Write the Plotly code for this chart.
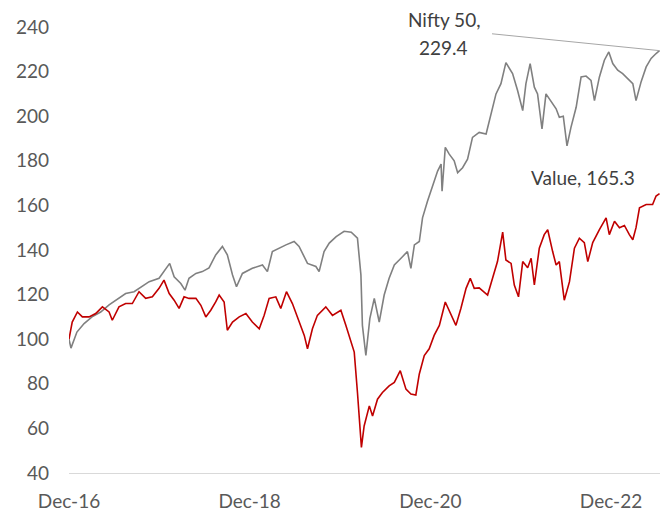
import plotly.graph_objects as go

# ==========================================
# Data (rebased to 100 in Dec-16)
# ==========================================

nifty_dates = [
    "2016-12-01", "2016-12-09", "2017-01-02", "2017-01-31", "2017-03-04", "2017-04-08",
    "2017-05-12", "2017-06-13", "2017-07-18", "2017-08-21", "2017-09-22", "2017-10-21",
    "2017-11-30", "2017-12-27", "2018-01-12", "2018-01-30", "2018-02-26", "2018-03-15",
    "2018-03-31", "2018-04-28", "2018-05-24", "2018-06-20", "2018-07-17", "2018-08-13",
    "2018-09-02", "2018-09-23", "2018-10-09", "2018-11-02", "2018-12-12", "2019-01-22",
    "2019-02-11", "2019-03-03", "2019-03-30", "2019-04-27", "2019-05-30", "2019-06-19",
    "2019-07-23", "2019-08-26", "2019-09-08", "2019-09-28", "2019-10-19", "2019-11-16",
    "2019-12-18", "2020-01-16", "2020-02-10", "2020-02-24", "2020-03-01", "2020-03-15",
    "2020-03-31", "2020-04-18", "2020-05-08", "2020-05-28", "2020-06-17", "2020-07-08",
    "2020-08-04", "2020-08-30", "2020-09-13", "2020-09-27", "2020-10-17", "2020-10-30",
    "2020-11-19", "2020-12-10", "2020-12-30", "2021-01-13", "2021-01-17", "2021-01-30",
    "2021-02-15", "2021-03-07", "2021-03-21", "2021-04-10", "2021-04-30", "2021-05-20",
    "2021-06-16", "2021-07-14", "2021-08-03", "2021-08-23", "2021-09-12", "2021-10-02",
    "2021-10-29", "2021-11-18", "2021-12-09", "2021-12-22", "2022-01-08", "2022-01-25",
    "2022-02-07", "2022-02-25", "2022-03-13", "2022-04-02", "2022-04-23", "2022-05-06",
    "2022-05-22", "2022-06-06", "2022-06-22", "2022-07-13", "2022-08-02", "2022-08-22",
    "2022-09-11", "2022-09-25", "2022-10-15", "2022-11-04", "2022-11-22", "2022-12-08",
    "2022-12-28", "2023-01-17", "2023-02-06", "2023-02-27", "2023-03-12", "2023-04-02",
    "2023-04-22", "2023-05-12", "2023-06-01", "2023-06-15",
]
nifty_values = [
    100.0, 96.0, 103.2, 107.0, 110.0, 112.2,
    115.4, 117.7, 120.5, 121.3, 123.5, 125.8,
    127.3, 131.2, 134.0, 128.0, 125.0, 122.0,
    127.3, 129.5, 130.3, 132.0, 137.8, 141.6,
    137.8, 128.8, 123.5, 129.5, 131.8, 133.3,
    130.3, 139.3, 140.8, 142.3, 143.8, 141.6,
    134.0, 132.6, 130.3, 139.3, 143.1, 146.0,
    148.4, 148.0, 145.3, 128.8, 106.2, 92.7,
    109.2, 118.3, 107.7, 119.8, 127.3, 133.3,
    136.3, 139.3, 131.8, 142.3, 143.8, 154.4,
    161.9, 169.4, 175.4, 178.5, 166.4, 186.0,
    183.0, 180.0, 174.7, 176.9, 180.7, 190.5,
    192.7, 192.0, 201.0, 210.0, 214.6, 224.0,
    219.1, 211.6, 202.5, 214.6, 223.6, 213.0,
    210.0, 194.3, 210.0, 207.0, 203.3, 199.5,
    200.0, 186.7, 195.0, 204.0, 217.6, 218.0,
    216.1, 207.0, 217.6, 225.1, 228.8, 223.6,
    220.6, 219.1, 216.8, 214.6, 207.0, 215.6,
    222.1, 225.9, 228.1, 229.4,
]

value_dates = [
    "2016-12-01", "2016-12-14", "2017-01-04", "2017-01-24", "2017-02-20", "2017-03-19",
    "2017-04-15", "2017-05-12", "2017-05-25", "2017-06-21", "2017-07-18", "2017-08-14",
    "2017-09-10", "2017-10-07", "2017-11-03", "2017-11-30", "2017-12-20", "2018-01-10",
    "2018-01-30", "2018-02-19", "2018-03-11", "2018-03-31", "2018-04-28", "2018-05-18",
    "2018-06-07", "2018-06-27", "2018-07-17", "2018-07-31", "2018-08-20", "2018-09-02",
    "2018-09-23", "2018-10-20", "2018-11-16", "2018-12-12", "2019-01-09", "2019-01-29",
    "2019-02-18", "2019-03-17", "2019-04-06", "2019-04-29", "2019-05-23", "2019-06-19",
    "2019-07-10", "2019-07-23", "2019-08-12", "2019-09-01", "2019-10-05", "2019-11-01",
    "2019-12-05", "2019-12-25", "2020-01-14", "2020-01-28", "2020-02-10", "2020-02-20",
    "2020-02-26", "2020-03-08", "2020-03-29", "2020-04-11", "2020-05-01", "2020-05-21",
    "2020-06-17", "2020-07-08", "2020-08-01", "2020-08-24", "2020-09-13", "2020-10-03",
    "2020-10-17", "2020-11-06", "2020-11-26", "2020-12-16", "2021-01-06", "2021-01-30",
    "2021-02-22", "2021-03-14", "2021-04-03", "2021-04-24", "2021-05-11", "2021-05-27",
    "2021-06-16", "2021-07-20", "2021-08-09", "2021-08-29", "2021-09-19", "2021-10-02",
    "2021-10-23", "2021-11-05", "2021-11-22", "2021-12-09", "2021-12-29", "2022-01-12",
    "2022-01-25", "2022-02-14", "2022-03-06", "2022-03-20", "2022-04-09", "2022-04-23",
    "2022-05-06", "2022-05-19", "2022-05-26", "2022-06-16", "2022-07-06", "2022-07-26",
    "2022-08-15", "2022-08-29", "2022-09-18", "2022-10-15", "2022-11-11", "2022-11-24",
    "2022-12-15", "2023-01-04", "2023-01-24", "2023-02-13", "2023-02-27", "2023-03-12",
    "2023-03-26", "2023-04-22", "2023-05-18", "2023-06-01", "2023-06-15",
]
value_values = [
    100.0, 107.7, 112.2, 110.0, 110.0, 111.5,
    114.5, 112.2, 108.5, 114.5, 116.0, 116.0,
    121.3, 118.3, 119.0, 122.8, 126.5, 120.5,
    117.5, 113.8, 119.0, 118.3, 118.3, 115.2,
    110.0, 113.0, 116.7, 119.8, 116.7, 104.0,
    107.7, 110.0, 111.5, 107.7, 104.7, 110.7,
    118.3, 119.0, 113.8, 121.3, 116.0, 107.7,
    101.7, 95.7, 104.7, 110.7, 114.5, 110.7,
    113.0, 106.2, 98.7, 94.2, 76.1, 58.1,
    51.5, 61.1, 70.1, 65.6, 73.1, 76.1,
    79.1, 80.6, 85.9, 77.6, 75.4, 75.0,
    84.4, 92.7, 95.7, 101.7, 106.2, 116.7,
    110.7, 106.2, 113.8, 122.8, 127.3, 122.8,
    123.0, 119.8, 127.3, 134.8, 148.0, 135.5,
    134.0, 124.3, 119.0, 134.8, 132.0, 136.3,
    124.3, 140.8, 146.9, 149.1, 139.3, 133.3,
    134.8, 124.3, 117.5, 125.8, 140.8, 145.3,
    143.3, 134.8, 143.3, 149.1, 154.4, 146.9,
    152.9, 150.0, 151.0, 146.9, 144.6, 150.0,
    158.9, 160.4, 160.4, 164.2, 165.3,
]

tick_dates = ["2016-12-01", "2018-12-01", "2020-12-01", "2022-12-01"]
tick_labels = ["Dec-16", "Dec-18", "Dec-20", "Dec-22"]

FONT = "Lato, 'Open Sans', sans-serif"

# ==========================================
# Figure
# ==========================================

fig = go.Figure()

fig.add_trace(go.Scatter(
    x=nifty_dates, y=nifty_values, mode='lines', name='Nifty 50',
    line=dict(color='#808080', width=1.6), hoverinfo='skip'
))
fig.add_trace(go.Scatter(
    x=value_dates, y=value_values, mode='lines', name='Value',
    line=dict(color='#C00000', width=1.6), hoverinfo='skip'
))

# leader line for the Nifty label
fig.add_annotation(
    x=nifty_dates[-1], y=nifty_values[-1], text="",
    showarrow=True, arrowhead=0, arrowwidth=1, arrowcolor='#a6a6a6',
    ax=-169, ay=-17
)
# data labels
fig.add_annotation(
    x=nifty_dates[-1], y=nifty_values[-1], text="Nifty 50,",
    showarrow=False, xshift=-216, yshift=31, borderpad=0,
    font=dict(family=FONT, size=19, color='#404040')
)
fig.add_annotation(
    x=nifty_dates[-1], y=nifty_values[-1], text=f"{nifty_values[-1]:.1f}",
    showarrow=False, xshift=-216, yshift=3,
    font=dict(family=FONT, size=19, color='#404040')
)
fig.add_annotation(
    x=value_dates[-1], y=value_values[-1], text=f"Value, {value_values[-1]:.1f}",
    showarrow=False, xshift=-77, yshift=16,
    font=dict(family=FONT, size=19, color='#404040')
)

# the page body keeps its default 8px margin, so the figure is 8px smaller
fig.update_layout(
    width=660, height=506,
    margin=dict(l=61, r=6, t=19, b=41),
    plot_bgcolor='white', paper_bgcolor='white',
    showlegend=False,
    hovermode=False,
    font=dict(family=FONT, size=19, color='#595959'),
    xaxis=dict(
        type='date',
        range=["2016-12-01", "2023-06-25"],
        tickmode='array', tickvals=tick_dates, ticktext=tick_labels,
        showgrid=False, zeroline=False,
        showline=True, linecolor='#d9d9d9', linewidth=1,
        ticks='', ticklabelstandoff=11, automargin=False,
    ),
    yaxis=dict(
        range=[40, 240], dtick=20, tick0=40,
        showgrid=False, zeroline=False, showline=False,
        ticks='', ticklabelstandoff=19, automargin=False,
    ),
)

fig.write_html("out.html")
